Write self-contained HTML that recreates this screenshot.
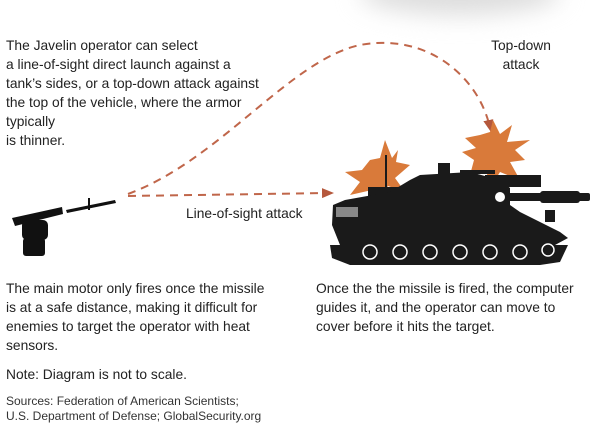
<!DOCTYPE html>
<html><head><style>
body{margin:0;width:600px;height:436px;background:#fff;overflow:hidden;font-family:"Liberation Sans",sans-serif;color:#222}
.t{position:absolute;font-size:13.8px;line-height:19px}
</style></head><body>
<div style="position:absolute;left:360px;top:-30px;width:200px;height:45px;background:#ddd;border-radius:50%;filter:blur(12px)"></div>
<svg width="600" height="436" style="position:absolute;left:0;top:0">
<defs><marker id="a" markerWidth="6" markerHeight="6" refX="4" refY="3" orient="auto" markerUnits="userSpaceOnUse"><path d="M0,0L6,3L0,6z" fill="#b5583c" transform="scale(1)"/></marker>
<marker id="b" markerWidth="12" markerHeight="10" refX="8" refY="5" orient="auto" markerUnits="userSpaceOnUse"><path d="M0,0L12,5L0,10z" fill="#b5583c"/></marker></defs>
<path d="M128,194 C220,160 290,60 360,45 C430,32 480,80 490,128" fill="none" stroke="#c0664a" stroke-width="2" stroke-dasharray="8,6" marker-end="url(#b)"/>
<path d="M128,196 L330,193" fill="none" stroke="#c0664a" stroke-width="2" stroke-dasharray="8,6" marker-end="url(#b)"/>
<polygon points="370,160 380,158 385,140 392,158 398,150 396,162 410,165 395,178 405,192 388,186 380,200 372,190 350,195 360,182 345,172 362,170" fill="#d97a3a"/>
<polygon points="480,135 490,132 493,120 500,134 512,125 507,142 530,140 515,150 525,160 510,162 520,180 500,172 492,185 485,170 470,175 474,160 462,152 476,148 465,138" fill="#d97a3a"/>
<g fill="#1a1a1a">
<rect x="368" y="187" width="80" height="16"/>
<path d="M420,175 L470,172 L500,180 L510,188 L510,205 L520,212 L560,232 L568,238 L555,245 L340,245 L332,225 L333,205 L345,200 L390,192 L410,180z"/>
<rect x="438" y="163" width="12" height="12"/>
<rect x="460" y="170" width="35" height="4"/>
<rect x="485" y="175" width="56" height="12"/>
<rect x="500" y="193" width="90" height="8" rx="2"/>
<rect x="540" y="191" width="40" height="12" rx="3"/>
<rect x="545" y="210" width="10" height="12"/>
<path d="M330,245 L568,245 L560,262 L540,265 L350,265 L332,258z"/>
<rect x="385" y="155" width="2" height="35"/>
</g>
<circle cx="500" cy="197" r="5" fill="#fff"/>
<rect x="336" y="207" width="22" height="10" fill="#888"/>
<g fill="none" stroke="#fff" stroke-width="1.5">
<circle cx="370" cy="252" r="7"/><circle cx="400" cy="252" r="7"/><circle cx="430" cy="252" r="7"/><circle cx="460" cy="252" r="7"/><circle cx="490" cy="252" r="7"/><circle cx="520" cy="252" r="7"/><circle cx="548" cy="250" r="6"/>
</g>
<g fill="#111">
<path d="M12,218 L62,207 L63,214 L15,226z"/>
<rect x="22" y="220" width="26" height="20" rx="5"/>
<rect x="23" y="238" width="22" height="18" rx="3"/>
<path d="M66,210 L115,200 L116,203 L67,213z"/>
<rect x="88" y="198" width="2" height="12"/>
</g>
</svg>
<div class="t" style="left:6px;top:36px">The Javelin operator can select<br>a line-of-sight direct launch against a<br>tank’s sides, or a top-down attack against<br>the top of the vehicle, where the armor<br>typically<br>is thinner.</div>
<div class="t" style="left:488px;top:36px;text-align:center;width:66px">Top-down<br>attack</div>
<div class="t" style="left:186px;top:204px">Line-of-sight attack</div>
<div class="t" style="left:6px;top:279px">The main motor only fires once the missile<br>is at a safe distance, making it difficult for<br>enemies to target the operator with heat<br>sensors.</div>
<div class="t" style="left:316px;top:279px">Once the the missile is fired, the computer<br>guides it, and the operator can move to<br>cover before it hits the target.</div>
<div class="t" style="left:6px;top:365px">Note: Diagram is not to scale.</div>
<div class="t" style="left:6px;top:394px;font-size:12px;line-height:15px;color:#333">Sources: Federation of American Scientists;<br>U.S. Department of Defense; GlobalSecurity.org</div>
</body></html>
